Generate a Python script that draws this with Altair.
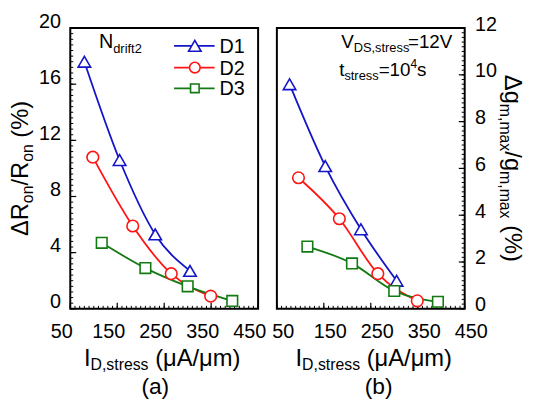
import numpy as np
import pandas as pd
import altair as alt

FONT = "Liberation Sans"

series = ["D1", "D2", "D3"]
colors = ["#1414c8", "#ff1414", "#137a13"]
shapes = ["triangle-up", "circle", "square"]
sizes = [160, 115, 75]

# panel (a): ΔRon/Ron (%)
a_d1_x = [80, 155, 231, 305]
a_d1_y = [17.6, 10.6, 5.3, 2.7]
a_d2_x = [98, 183, 265, 349]
a_d2_y = [10.8, 5.9, 2.5, 0.9]
a_d3_x = [117, 210, 300, 395]
a_d3_y = [4.7, 2.9, 1.6, 0.56]

# panel (b): Δgm,max/gm,max (%)
b_d1_x = [77, 153, 229, 305]
b_d1_y = [9.6, 6.1, 3.4, 1.2]
b_d2_x = [96, 183, 265, 349]
b_d2_y = [5.6, 3.85, 1.5, 0.34]
b_d3_x = [115, 210, 300, 393]
b_d3_y = [2.66, 1.94, 0.76, 0.3]

x_ticks = [50, 150, 250, 350, 450]
y_ticks_a = [0, 4, 8, 12, 16, 20]
y_ticks_b = [0, 2, 4, 6, 8, 10, 12]

W, H = 190, 284

CW = {' ': 0.278, '(': 0.333, ')': 0.333, ',': 0.278, '/': 0.278, '%': 0.889, '=': 0.584,
      'A': 0.667, 'D': 0.722, 'I': 0.278, 'N': 0.722, 'R': 0.722, 'V': 0.667,
      'a': 0.556, 'b': 0.556, 'c': 0.5, 'd': 0.556, 'e': 0.556, 'f': 0.278, 'g': 0.556,
      'i': 0.222, 'm': 0.833, 'n': 0.556, 'o': 0.556, 'r': 0.333, 's': 0.5, 't': 0.278,
      'x': 0.5, 'μ': 0.576, 'Δ': 0.667}


def tw(t, s):
    return sum(CW.get(c, 0.556) for c in t) * s


ONE = pd.DataFrame({"k": [0]})


def rich(parts, x, y, angle=0, center=True):
    total = sum(tw(t, s) for t, s, _ in parts)
    adv = -total / 2 if center else 0
    out = []
    for t, s, shift in parts:
        lead = len(t) - len(t.lstrip(" "))
        txt = t.strip(" ")
        kw = dict(text=txt, font=FONT, fontSize=s, align="left", baseline="alphabetic",
                  dx=adv + tw(t[:lead], s), dy=shift, color="black")
        if angle:
            kw["angle"] = angle
        out.append(alt.Chart(ONE).mark_text(**kw).encode(x=alt.value(x), y=alt.value(y)))
        adv += tw(t, s)
    return out


def make_df(xl, yl):
    rows = []
    for s, xs, ys in zip(series, xl, yl):
        for x, y in zip(xs, ys):
            rows.append({"series": s, "x": x, "y": y})
    return pd.DataFrame(rows)


def panel(df, ydom, ymajor, ystep, side, texts):
    xs = alt.Scale(domain=[50, 450], nice=False, zero=False)
    ys = alt.Scale(domain=ydom, nice=False, zero=False)
    xaxis = alt.Axis(values=x_ticks, ticks=False, domain=False, grid=False, title=None,
                     labelFont=FONT, labelFontSize=20, labelColor="black", labelPadding=13,
                     labelOffset=(-9 if side == "left" else 6), labelFlush=False,
                     labelOverlap=False, format="d")
    yaxis = alt.Axis(orient=side, values=ymajor, ticks=False, domain=False, grid=False,
                     title=None, labelFont=FONT, labelFontSize=20, labelColor="black",
                     labelPadding=10, labelOffset=(-7 if side == "left" else -4),
                     labelFlush=False, labelOverlap=False, format="d")
    col = alt.Color("series:N", scale=alt.Scale(domain=series, range=colors), legend=None)
    stk = alt.Stroke("series:N", scale=alt.Scale(domain=series, range=colors), legend=None)
    shp = alt.Shape("series:N", scale=alt.Scale(domain=series, range=shapes), legend=None)
    siz = alt.Size("series:N", scale=alt.Scale(domain=series, range=sizes), legend=None)

    lines = alt.Chart(df).mark_line(interpolate="monotone", strokeWidth=1.8).encode(
        x=alt.X("x:Q", scale=xs, axis=xaxis), y=alt.Y("y:Q", scale=ys, axis=yaxis),
        color=col, detail="series:N")
    pts = alt.Chart(df).mark_point(filled=True, fill="white", opacity=1, strokeWidth=1.6).encode(
        x=alt.X("x:Q", scale=xs, axis=xaxis), y=alt.Y("y:Q", scale=ys, axis=yaxis),
        stroke=stk, shape=shp, size=siz)

    xmin = pd.DataFrame({"v": np.arange(50, 451, 10)})
    xmaj = pd.DataFrame({"v": x_ticks})
    ymin = pd.DataFrame({"v": np.round(np.arange(ydom[0], ydom[1] + 1e-9, ystep), 3)})
    ymaj = pd.DataFrame({"v": ymajor})
    x0 = 0 if side == "left" else W
    sgn = 1 if side == "left" else -1
    ticks = [
        alt.Chart(xmin).mark_rule(color="black", strokeWidth=1).encode(
            x=alt.X("v:Q", scale=xs, axis=xaxis), y=alt.value(H), y2=alt.value(H - 3)),
        alt.Chart(xmaj).mark_rule(color="black", strokeWidth=1.2).encode(
            x=alt.X("v:Q", scale=xs, axis=xaxis), y=alt.value(H), y2=alt.value(H - 6)),
        alt.Chart(ymin).mark_rule(color="black", strokeWidth=1).encode(
            y=alt.Y("v:Q", scale=ys, axis=yaxis), x=alt.value(x0), x2=alt.value(x0 + sgn * 3)),
        alt.Chart(ymaj).mark_rule(color="black", strokeWidth=1.2).encode(
            y=alt.Y("v:Q", scale=ys, axis=yaxis), x=alt.value(x0), x2=alt.value(x0 + sgn * 6)),
    ]
    layers = [lines] + ticks + [pts] + texts
    return alt.layer(*layers).properties(width=W, height=H)


df_a = make_df([a_d1_x, a_d2_x, a_d3_x], [a_d1_y, a_d2_y, a_d3_y])
df_b = make_df([b_d1_x, b_d2_x, b_d3_x], [b_d1_y, b_d2_y, b_d3_y])

# legend (panel a)
leg = []
leg_y = [18, 40, 61]
for s, c, sh, sz, ly in zip(series, colors, shapes, sizes, leg_y):
    leg.append(alt.Chart(ONE).mark_rule(color=c, strokeWidth=1.8).encode(
        x=alt.value(105), x2=alt.value(146), y=alt.value(ly)))
    leg.append(alt.Chart(ONE).mark_point(filled=True, fill="white", opacity=1, strokeWidth=1.6,
                                         stroke=c, shape=sh, size=sz).encode(
        x=alt.value(126), y=alt.value(ly)))
    leg.append(alt.Chart(ONE).mark_text(text=s, font=FONT, fontSize=20, align="left",
                                        baseline="middle", color="black").encode(
        x=alt.value(151), y=alt.value(ly + 1)))

texts_a = leg
texts_a += rich([("N", 20, 0), ("drift2", 13, 5)], 29, 20, center=False)
texts_a += rich([("Δ", 24, 0), ("R", 24, 0), ("on", 16, 5), ("/R", 24, 0), ("on", 16, 5),
                 (" (%)", 24, 0)], -43, 142, angle=270)
texts_a += rich([("I", 24, 0), ("D,stress", 16, 4), (" (μA/μm)", 24, 0)], W / 2 - 2, 342)
texts_a += rich([("(a)", 23, 0)], W / 2 - 9, 370)

texts_b = []
texts_b += rich([("V", 19, 0), ("DS,stress", 13, 4), ("=12V", 19, 0)], 65, 20, center=False)
texts_b += rich([("t", 19, 0), ("stress", 13, 4), ("=10", 19, 0), ("4", 12, -9), ("s", 19, 0)],
                63, 49, center=False)
texts_b += rich([("Δg", 24, 0), ("m,max", 16, 5), ("/g", 24, 0), ("m,max", 16, 5),
                 (" (%)", 24, 0)], 231, 142, angle=90)
texts_b += rich([("I", 24, 0), ("D,stress", 16, 4), (" (μA/μm)", 24, 0)], W / 2 + 3, 342)
texts_b += rich([("(b)", 23, 0)], W / 2 + 8, 370)

left = panel(df_a, [0, 20], y_ticks_a, 0.4, "left", texts_a)
right = panel(df_b, [0, 12], y_ticks_b, 0.2, "right", texts_b)

chart = alt.hconcat(left, right, spacing=19, bounds="flush").properties(
    padding={"left": 0, "top": 0, "right": 0, "bottom": 0},
).configure_view(stroke="black", strokeWidth=2)

chart.save("out.html", embed_options={"renderer": "svg", "actions": False})
